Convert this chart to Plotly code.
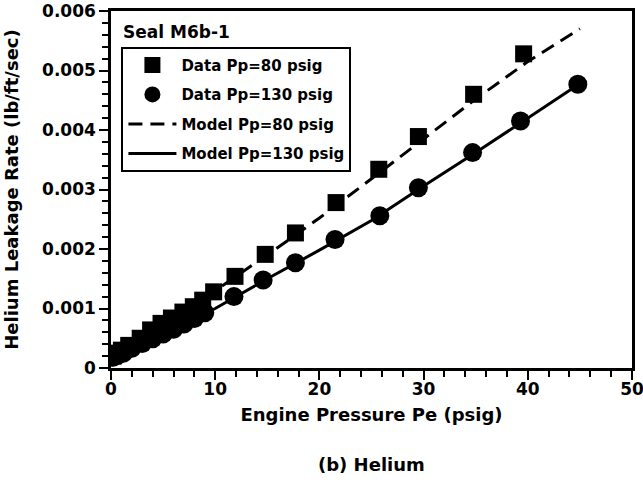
import plotly.graph_objects as go

# Data Pp=80 psig (squares)
pe_sq = [0.2, 0.6, 1.0, 1.7, 2.8, 3.8, 4.8, 5.8, 6.9, 7.9, 8.8, 9.85, 11.9, 14.8, 17.7, 21.6, 25.7, 29.5, 34.8, 39.6]
rate_sq = [0.00020, 0.00025, 0.00030, 0.00038, 0.00050, 0.00064, 0.00075, 0.00084, 0.00094, 0.00103, 0.00114,
           0.00128, 0.00154, 0.00191, 0.00227, 0.00278, 0.00334, 0.00389, 0.00460, 0.00528]

# Data Pp=130 psig (circles)
pe_ci = [0.2, 0.6, 1.2, 2.0, 3.0, 4.0, 5.0, 6.0, 7.0, 8.0, 9.0, 11.8, 14.6, 17.7, 21.5, 25.8, 29.5, 34.7, 39.3, 44.8]
rate_ci = [0.00018, 0.00021, 0.00025, 0.00033, 0.00041, 0.00049, 0.00057, 0.00065, 0.00074, 0.00083, 0.00093,
           0.00120, 0.00148, 0.00177, 0.00216, 0.00256, 0.00303, 0.00362, 0.00415, 0.00477]

# Model curves
pe_model = [0, 2, 5, 10, 15, 20, 25, 30, 35, 40, 45]
model_80 = [0.00018, 0.00042, 0.00075, 0.00130, 0.00190, 0.00252, 0.00318, 0.00385, 0.00452, 0.00515, 0.00570]
model_130 = [0.00016, 0.00033, 0.00058, 0.00100, 0.00150, 0.00198, 0.00248, 0.00306, 0.00362, 0.00420, 0.00478]

y_tickvals = [0, 0.001, 0.002, 0.003, 0.004, 0.005, 0.006]
y_ticktext = ["0", "0.001", "0.002", "0.003", "0.004", "0.005", "0.006"]
x_tickvals = [0, 10, 20, 30, 40, 50]

FONT = "DejaVu Sans, sans-serif"

fig = go.Figure()
fig.add_trace(go.Scatter(x=pe_sq, y=rate_sq, mode="markers", name="<b>Data Pp=80 psig</b>",
                         marker=dict(symbol="square", size=17, color="black"), legendgroup="a"))
fig.add_trace(go.Scatter(x=pe_ci, y=rate_ci, mode="markers", name="<b>Data Pp=130 psig</b>",
                         marker=dict(symbol="circle", size=19, color="black"), legendgroup="b"))
fig.add_trace(go.Scatter(x=pe_model, y=model_80, mode="lines", name="<b>Model Pp=80 psig</b>",
                         line=dict(color="black", width=3, dash="14px,8px"), legendgroup="c"))
fig.add_trace(go.Scatter(x=pe_model, y=model_130, mode="lines", name="<b>Model Pp=130 psig</b>",
                         line=dict(color="black", width=3), legendgroup="d"))

axis_common = dict(showline=True, linecolor="black", linewidth=2.5, mirror=True, showgrid=False,
                   zeroline=False, ticks="outside", ticklen=9, tickwidth=2, tickcolor="black",
                   automargin=False, ticklabeloverflow="allow",
                   tickfont=dict(family=FONT, size=17, color="black", weight="bold"))

fig.update_xaxes(range=[0, 50], tickvals=x_tickvals,
                 minor=dict(dtick=2, ticks="outside", ticklen=6, tickwidth=1.5, tickcolor="black"),
                 ticklabelstandoff=-5,
                 title=dict(text="<b>Engine Pressure Pe (psig)</b>", font=dict(family=FONT, size=18, color="black"),
                            standoff=11),
                 **axis_common)
fig.update_yaxes(range=[0, 0.006], tickvals=y_tickvals, ticktext=y_ticktext,
                 minor=dict(dtick=0.0002, ticks="outside", ticklen=6, tickwidth=1.5, tickcolor="black"),
                 title=dict(text="<b>Helium Leakage Rate (lb/ft/sec)</b>", font=dict(family=FONT, size=18, color="black"),
                            standoff=19),
                 **axis_common)

fig.add_annotation(text="<b>Seal M6b-1</b>", xref="paper", yref="paper", x=0.02, y=0.974,
                   xanchor="left", yanchor="top", showarrow=False,
                   font=dict(family=FONT, size=17, color="black"))
fig.add_annotation(text="<b>(b) Helium</b>", xref="paper", yref="paper", x=0.5, y=-0.27,
                   xanchor="center", yanchor="middle", showarrow=False,
                   font=dict(family=FONT, size=18, color="black"))

fig.update_layout(
    width=643, height=484,
    margin=dict(l=111, r=11, t=11, b=116),
    plot_bgcolor="white", paper_bgcolor="white",
    showlegend=True,
    legend=dict(x=0.02, y=0.9, xanchor="left", yanchor="top",
                bgcolor="white", bordercolor="black", borderwidth=2,
                font=dict(family=FONT, size=15, color="black"),
                itemwidth=48,
                traceorder="grouped", tracegroupgap=7),
)

fig.write_html("out.html", config={"displayModeBar": False},
               post_script="document.body.style.margin='0';")
